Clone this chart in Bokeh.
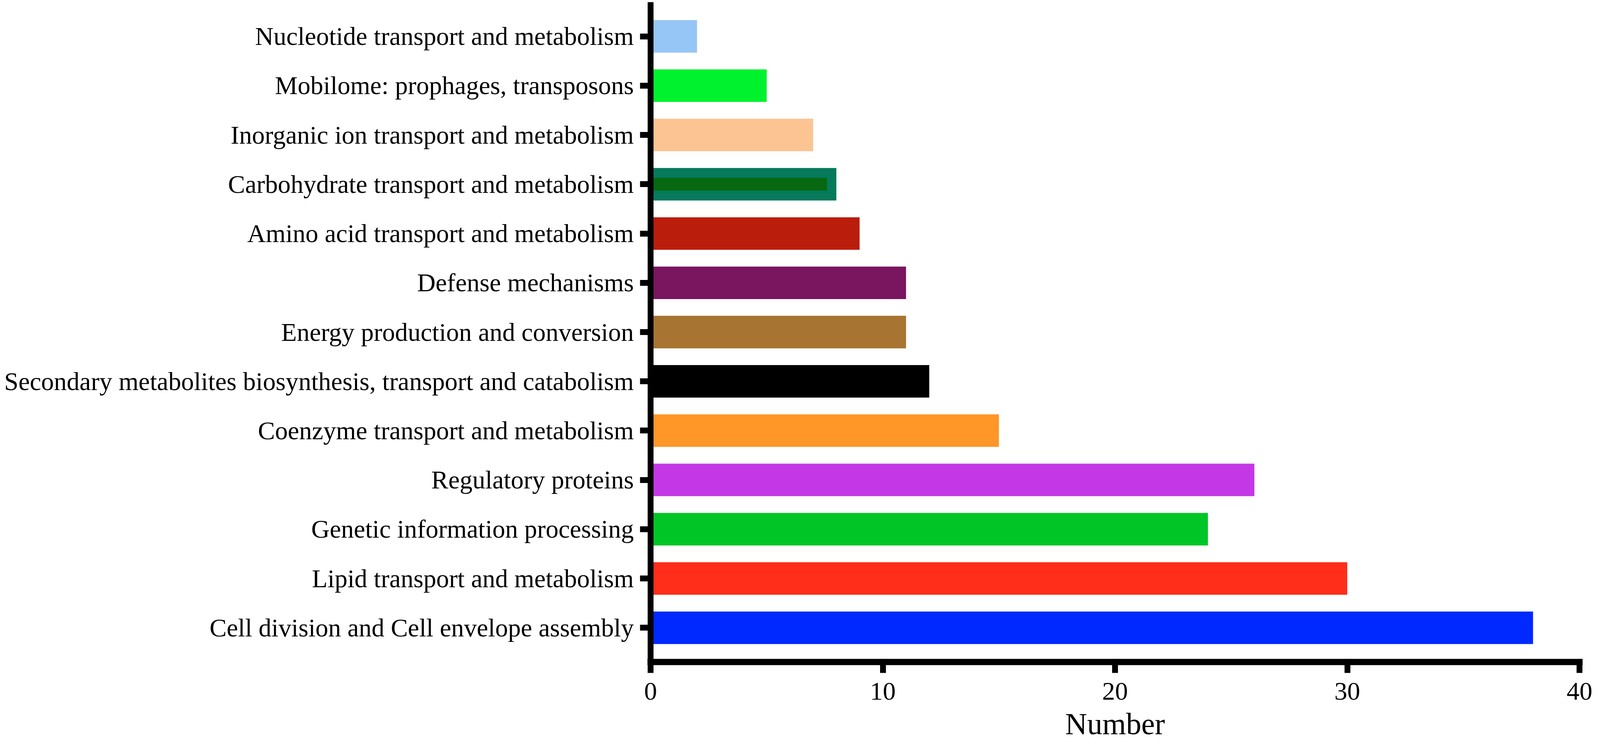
from bokeh.plotting import figure
from bokeh.models import ColumnDataSource, FactorRange, Range1d, FixedTicker
from bokeh.embed import file_html
from bokeh.resources import INLINE

# ---- data (top to bottom as drawn) ----
categories = [
    "Nucleotide transport and metabolism",
    "Mobilome: prophages, transposons",
    "Inorganic ion transport and metabolism",
    "Carbohydrate transport and metabolism",
    "Amino acid transport and metabolism",
    "Defense mechanisms",
    "Energy production and conversion",
    "Secondary metabolites biosynthesis, transport and catabolism",
    "Coenzyme transport and metabolism",
    "Regulatory proteins",
    "Genetic information processing",
    "Lipid transport and metabolism",
    "Cell division and Cell envelope assembly",
]
values = [2, 5, 7, 8, 9, 11, 11, 12, 15, 26, 24, 30, 38]
colors = [
    "#95c6f5", "#00f22e", "#fcc493", "#077a5b", "#ba1d0c", "#7a155f",
    "#a87431", "#000000", "#fe9628", "#c337e6", "#00c526", "#ff2e1b", "#0029ff",
]
# darker inner stripe visible inside the carbohydrate bar
inner_categories = ["Carbohydrate transport and metabolism"]
inner_values = [7.6]
inner_colors = ["#066911"]

x_ticks = [0, 10, 20, 30, 40]

FONT = "Liberation Serif"

y_factors = list(reversed(categories))  # bottom-to-top for the range

p = figure(
    y_range=FactorRange(factors=y_factors, range_padding=0.03, range_padding_units="percent"),
    x_range=Range1d(0, 40),
    width=4080,
    height=1910,
    min_border_left=1665,
    min_border_right=37,
    min_border_top=5,
    min_border_bottom=215,
    output_backend="svg",
    toolbar_location=None,
    background_fill_color="white",
    border_fill_color="white",
)
p.outline_line_color = None
p.xgrid.visible = False
p.ygrid.visible = False

src = ColumnDataSource(dict(cat=categories, val=values, col=colors))
p.hbar(y="cat", right="val", left=0, height=0.66, fill_color="col", line_color=None, source=src)

src2 = ColumnDataSource(dict(cat=inner_categories, val=inner_values, col=inner_colors))
p.hbar(y="cat", right="val", left=0, height=0.26, fill_color="col", line_color=None, source=src2)

# x axis
xa = p.xaxis[0]
xa.ticker = FixedTicker(ticks=x_ticks)
xa.minor_tick_line_color = None
xa.axis_line_width = 16
xa.axis_line_color = "black"
xa.axis_line_cap = "square"
xa.major_tick_line_width = 15
xa.major_tick_line_color = "black"
xa.major_tick_out = 28
xa.major_tick_in = 0
xa.major_label_text_font = FONT
xa.major_label_text_font_size = "66px"
xa.major_label_text_color = "black"
xa.major_label_standoff = 25
xa.axis_label = "Number"
xa.axis_label_text_font = FONT
xa.axis_label_text_font_size = "78px"
xa.axis_label_text_font_style = "normal"
xa.axis_label_text_color = "black"
xa.axis_label_standoff = 15

# y axis
ya = p.yaxis[0]
ya.axis_line_width = 15
ya.axis_line_color = "black"
ya.major_tick_line_width = 15
ya.major_tick_line_color = "black"
ya.major_tick_out = 27
ya.major_tick_in = 0
ya.minor_tick_line_color = None
ya.major_label_text_font = FONT
ya.major_label_text_font_size = "65.5px"
ya.major_label_text_color = "black"
ya.major_label_standoff = 16

open("out.html", "w").write(file_html(p, INLINE))
